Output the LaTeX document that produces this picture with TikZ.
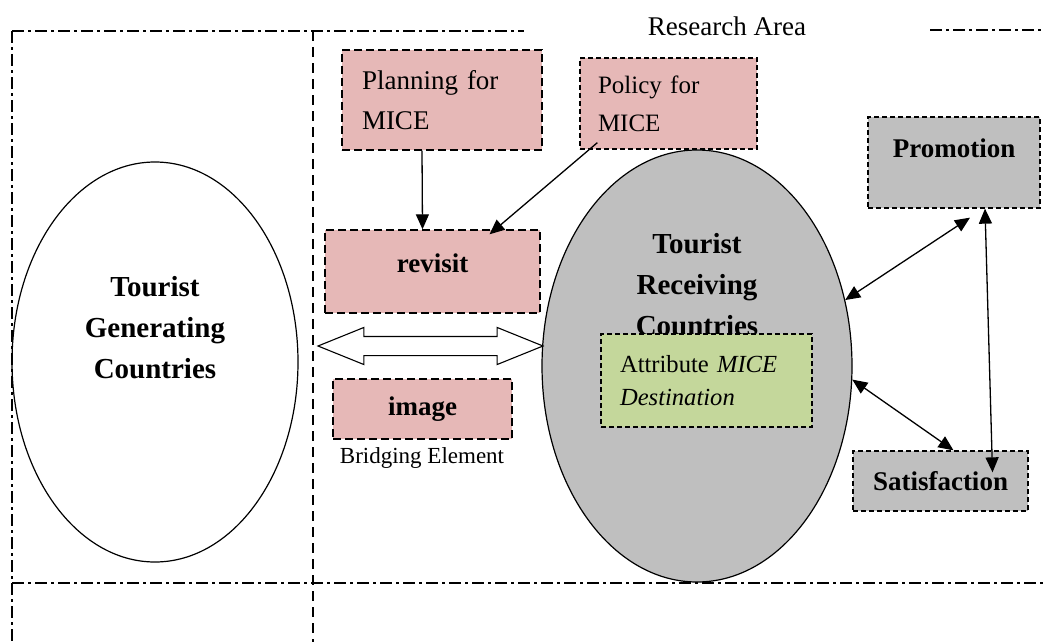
\documentclass[tikz,border=0pt]{standalone}
\usepackage{fontspec}
\setmainfont{Liberation Serif}
\usetikzlibrary{positioning, arrows.meta, shapes.geometric, shapes.arrows}
\definecolor{rosa}{HTML}{E6B8B7}
\definecolor{gris}{HTML}{BFBFBF}
\definecolor{verde}{HTML}{C4D79B}
\tikzset{marco/.style={line width=1.1pt, dash pattern=on 12pt off 4pt on 3pt off 4pt}}
\tikzset{caja/.style={draw, line width=1.4pt, dash pattern=on 8pt off 4pt, inner sep=0pt}}
\tikzset{cajafina/.style={draw, line width=1.3pt, dash pattern=on 5pt off 3pt, inner sep=0pt}}
\tikzset{titulo/.style={font=\bfseries\fontsize{29}{41}\selectfont, align=center}}
\tikzset{negrita/.style={font=\bfseries\fontsize{27}{32}\selectfont}}
\tikzset{flecha/.style={line width=1.3pt, -{Triangle[length=15pt,width=13pt]}}}
\tikzset{dflecha/.style={line width=1.3pt, {Triangle[length=15pt,width=13pt]}-{Triangle[length=15pt,width=13pt]}}}

\begin{document}
\begin{tikzpicture}[x=1pt, y=-1pt]
    \useasboundingbox (0,0) rectangle (1043,642);

    % marco del area
    \draw[marco] (12,31) -- (524,31);
    \draw[marco] (930,30) -- (1043,30);
    \draw[marco] (12,31) -- (12,642);
    \draw[marco] (12,583) -- (1043,583);
    \draw[line width=1.1pt, dash pattern=on 10pt off 6pt] (313,31) -- (313,642);
    \node[font=\fontsize{27}{32}\selectfont] (area) at (727,26) {Research Area};

    % paises
    \node[ellipse, draw, line width=1.2pt, minimum width=286pt, minimum height=400pt] (gen) at (155,362) {};
    \node[titulo] (gentxt) at (155,328) {Tourist\\Generating\\Countries};
    \node[ellipse, draw, line width=1.2pt, fill=gris, minimum width=310pt, minimum height=432pt] (recv) at (697,366) {};
    \node[titulo] (recvtxt) at (697,285) {Tourist\\Receiving\\Countries};

    % cajas
    \node[caja, fill=rosa, minimum width=200pt, minimum height=100pt, text width=160pt, align=left,
          font=\fontsize{27}{40}\selectfont] (plan) at (442,100) {Planning for\\MICE};
    \node[cajafina, fill=rosa, minimum width=177pt, minimum height=91pt, text width=141pt, align=left,
          font=\fontsize{25}{38}\selectfont] (policy) at (668.5,103.5) {Policy for\\MICE};
    \node[caja, fill=rosa, negrita, minimum width=215pt, minimum height=83pt, text depth=17pt] (revisit) at (432.5,271.5) {revisit};
    \node[caja, fill=rosa, negrita, minimum width=179pt, minimum height=60pt] (image) at (422.5,409) {image};
    \node[font=\fontsize{23}{28}\selectfont] (bridge) at (422,458) {Bridging Element};
    \node[cajafina, fill=verde, minimum width=211pt, minimum height=93pt, text width=173pt, align=left,
          font=\fontsize{24.6}{33}\selectfont] (attr) at (706.5,380.5) {Attribute \textit{MICE}\\\textit{Destination}};
    \node[cajafina, fill=gris, negrita, minimum width=172pt, minimum height=91pt, text depth=29pt] (promo) at (954,162.5) {Promotion};
    \node[cajafina, fill=gris, negrita, minimum width=175pt, minimum height=60pt] (satisf) at (940.5,481) {Satisfaction};

    % puente entre paises
    \node[double arrow, draw, fill=white, line width=1.1pt, minimum height=225pt, double arrow head extend=9pt,
          double arrow tip angle=44, inner xsep=0pt, inner ysep=9pt] (puente) at (430.5,346) {};

    % flechas
    \draw[flecha] ([xshift=-20pt]plan.south) -- ([xshift=-10pt]revisit.north);
    \draw[flecha] ([xshift=18pt,yshift=7pt]policy.south west) -- ([xshift=57pt,yshift=-5pt]revisit.north);
    \draw[dflecha] (recv.24) -- ([xshift=16pt,yshift=-9pt]promo.south);
    \draw[dflecha] (recv.-5) -- ([xshift=13pt]satisf.north);
    \draw[dflecha] ([xshift=31pt]promo.south) -- ([xshift=52pt,yshift=-22pt]satisf.north);
\end{tikzpicture}
\end{document}
